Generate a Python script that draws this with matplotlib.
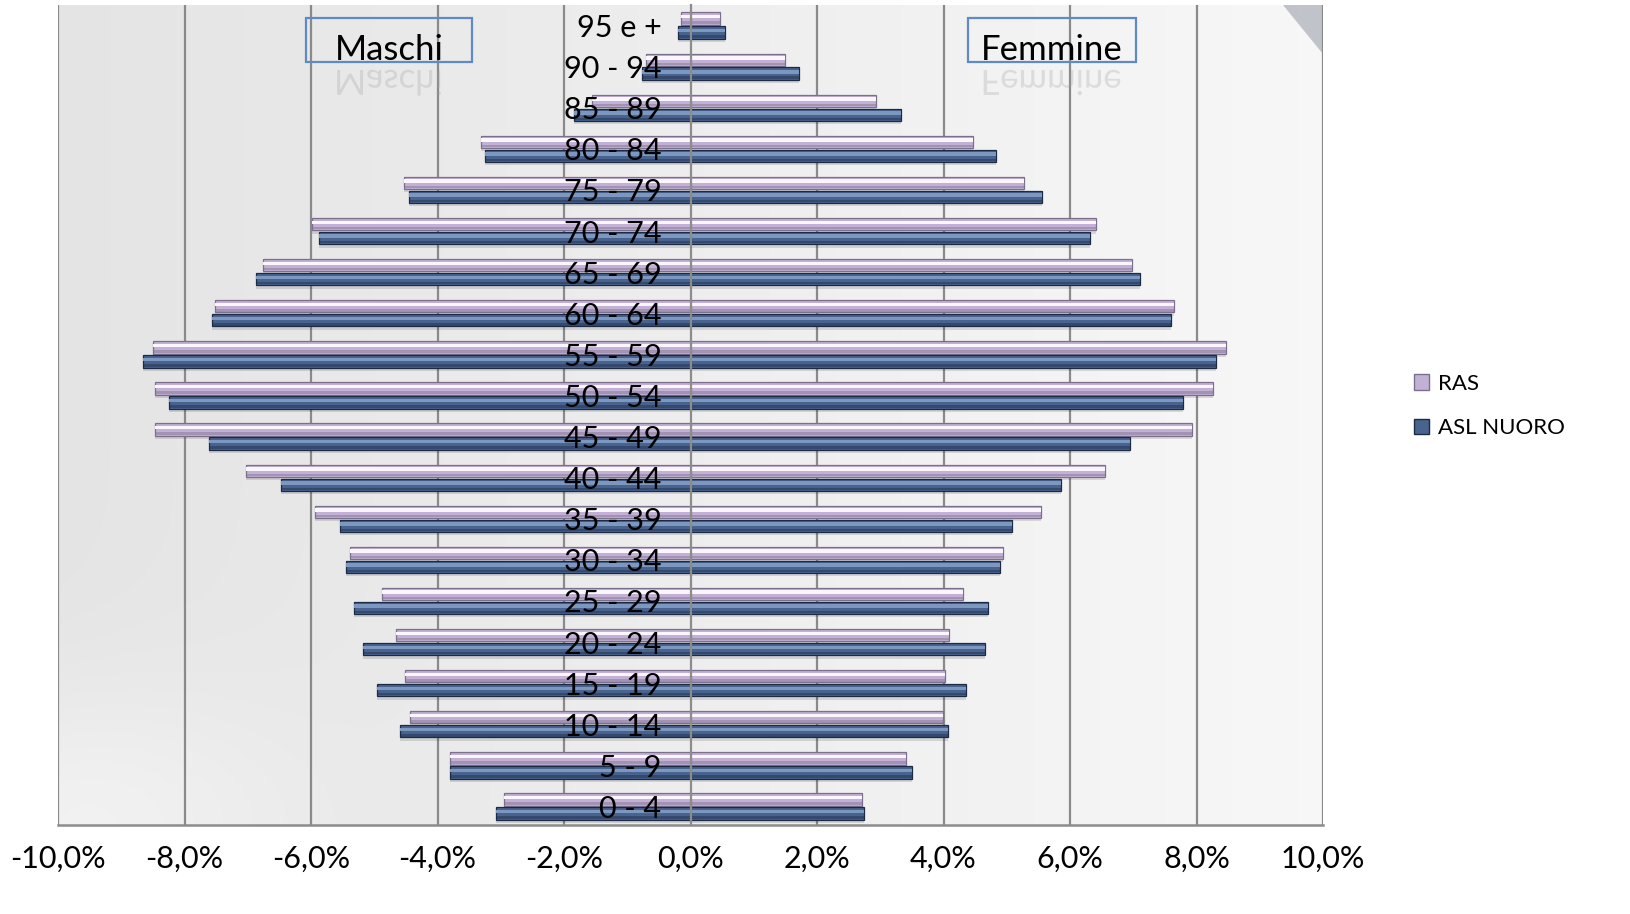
import numpy as np
import matplotlib
matplotlib.use("Agg")
import matplotlib.pyplot as plt
from matplotlib.patches import Patch, Rectangle, PathPatch, Polygon
from matplotlib.textpath import TextPath
from matplotlib.font_manager import FontProperties
from matplotlib.transforms import Affine2D, IdentityTransform
from matplotlib.ticker import FuncFormatter

plt.rcParams['font.family'] = ['Lato', 'DejaVu Sans']

# fasce di eta' e percentuali (maschi negativi, femmine positivi)
classi = ["0 - 4", "5 - 9", "10 - 14", "15 - 19", "20 - 24", "25 - 29", "30 - 34",
          "35 - 39", "40 - 44", "45 - 49", "50 - 54", "55 - 59", "60 - 64", "65 - 69",
          "70 - 74", "75 - 79", "80 - 84", "85 - 89", "90 - 94", "95 e +"]
maschi_ras = [-2.95, -3.80, -4.43, -4.52, -4.65, -4.87, -5.39, -5.93, -7.02, -8.46,
              -8.47, -8.50, -7.51, -6.76, -5.99, -4.53, -3.32, -1.55, -0.70, -0.15]
maschi_asl = [-3.07, -3.80, -4.60, -4.96, -5.17, -5.32, -5.45, -5.54, -6.47, -7.62,
              -8.24, -8.65, -7.57, -6.87, -5.88, -4.45, -3.25, -1.84, -0.76, -0.19]
femmine_ras = [2.71, 3.41, 3.99, 4.03, 4.08, 4.31, 4.94, 5.54, 6.56, 7.93,
               8.26, 8.46, 7.64, 6.98, 6.41, 5.27, 4.46, 2.94, 1.49, 0.47]
femmine_asl = [2.74, 3.50, 4.07, 4.35, 4.65, 4.70, 4.89, 5.08, 5.86, 6.95,
               7.78, 8.31, 7.60, 7.10, 6.31, 5.56, 4.83, 3.33, 1.71, 0.55]
xticks = [-10, -8, -6, -4, -2, 0, 2, 4, 6, 8, 10]

W, H = 1630, 914
fig = plt.figure(figsize=(W / 100, H / 100), dpi=100)
fig.patch.set_facecolor("white")
ax = fig.add_axes([58 / W, 1 - 825 / H, (1323 - 58) / W, (825 - 5) / H])
ax.set_axisbelow(False)

# sfondo sfumato dell'area del grafico
xx, yy = np.meshgrid(np.linspace(0, 1, 300), np.linspace(0, 1, 200))
grad = 0.895 + 0.075 * xx + 0.05 * np.exp(-(xx ** 2 + yy ** 2) / 0.03)
grad = np.clip(grad, 0, 1)
ax.imshow(np.dstack([grad, grad, grad]), extent=(0, 1, 0, 1), origin="lower",
          transform=ax.transAxes, aspect="auto", zorder=0, interpolation="bilinear")

# piega pagina in alto a destra
ax.add_patch(Polygon([[0.968, 1], [1, 1], [1, 0.94]], closed=True, transform=ax.transAxes,
                     facecolor="#8d909e", alpha=0.5, lw=0, zorder=0.3))

y = np.arange(len(classi))
h = 0.3
off = 0.17


def bevel_bars(yy, vals, base, light, dark):
    ax.barh(yy - 0.08, vals, height=h, color="#000000", alpha=0.12, lw=0, zorder=1)
    ax.barh(yy, vals, height=h, color=base, edgecolor=dark, linewidth=0.9, zorder=2)
    ax.barh(yy + h * 0.15, vals, height=h * 0.28, color=light, lw=0, zorder=2.1)
    ax.barh(yy - h * 0.33, vals, height=h * 0.2, color=dark, alpha=0.45, lw=0, zorder=2.1)


ras_c = ("#c2b1d4", "#faf6fd", "#7c6f8e")
asl_c = ("#48638e", "#7d98c0", "#1c2b45")

bevel_bars(y + off, maschi_ras, *ras_c)
bevel_bars(y + off, femmine_ras, *ras_c)
bevel_bars(y - off, maschi_asl, *asl_c)
bevel_bars(y - off, femmine_asl, *asl_c)

for t in xticks:
    if t != 0:
        ax.axvline(t, color="#8a8a8a", lw=1.6, zorder=0.8)

ax.set_xlim(-10, 10)
ax.set_ylim(-0.45, len(classi) - 0.5)
ax.set_xticks(xticks)
ax.xaxis.set_major_formatter(FuncFormatter(lambda v, p: f"{v:.1f}%".replace(".", ",")))
ax.set_yticks(y)
ax.set_yticklabels(classi)
ax.tick_params(axis="both", length=0, labelsize=22, colors="black")
ax.tick_params(axis="x", pad=14)
ax.tick_params(axis="y", pad=21)
ax.spines["left"].set_position(("data", 0))
ax.spines["left"].set_color("#8c8c8c")
ax.spines["left"].set_linewidth(1.6)
ax.spines["bottom"].set_color("#8c8c8c")
ax.spines["bottom"].set_linewidth(1.8)
ax.spines["top"].set_visible(False)
ax.spines["right"].set_visible(False)

# riquadri Maschi / Femmine con riflesso
fp = FontProperties(family="Lato")
for label, x0, x1 in [("Maschi", 306, 472), ("Femmine", 968, 1136)]:
    fig.add_artist(Rectangle((x0 / W, 1 - 62 / H), (x1 - x0) / W, 44 / H,
                             transform=fig.transFigure, fill=False,
                             edgecolor="#5f8ac6", lw=1.6, zorder=5))
    cx = (x0 + x1) / 2
    fig.text(cx / W, 1 - 60 / H, label, ha="center", va="baseline", fontsize=25, zorder=6)
    tp = TextPath((0, 0), label, size=25 * 100 / 72, prop=fp)
    ext = tp.get_extents()
    tr = Affine2D().scale(1, -1).translate(cx - ext.width / 2 - ext.x0, H - 70)
    fig.add_artist(PathPatch(tr.transform_path(tp), transform=IdentityTransform(),
                             facecolor="#a0a0a0", alpha=0.28, lw=0, zorder=5))

handles = [Patch(facecolor=ras_c[0], edgecolor=ras_c[2], label="RAS"),
           Patch(facecolor=asl_c[0], edgecolor=asl_c[2], label="ASL NUORO")]
fig.legend(handles=handles, loc="center left", bbox_to_anchor=(1398 / W, 1 - 406 / H),
           frameon=False, fontsize=16, handlelength=0.7, handleheight=0.7,
           handletextpad=0.4, labelspacing=1.1, borderpad=0.2)

fig.savefig("out.png", dpi=100)
plt.close(fig)
